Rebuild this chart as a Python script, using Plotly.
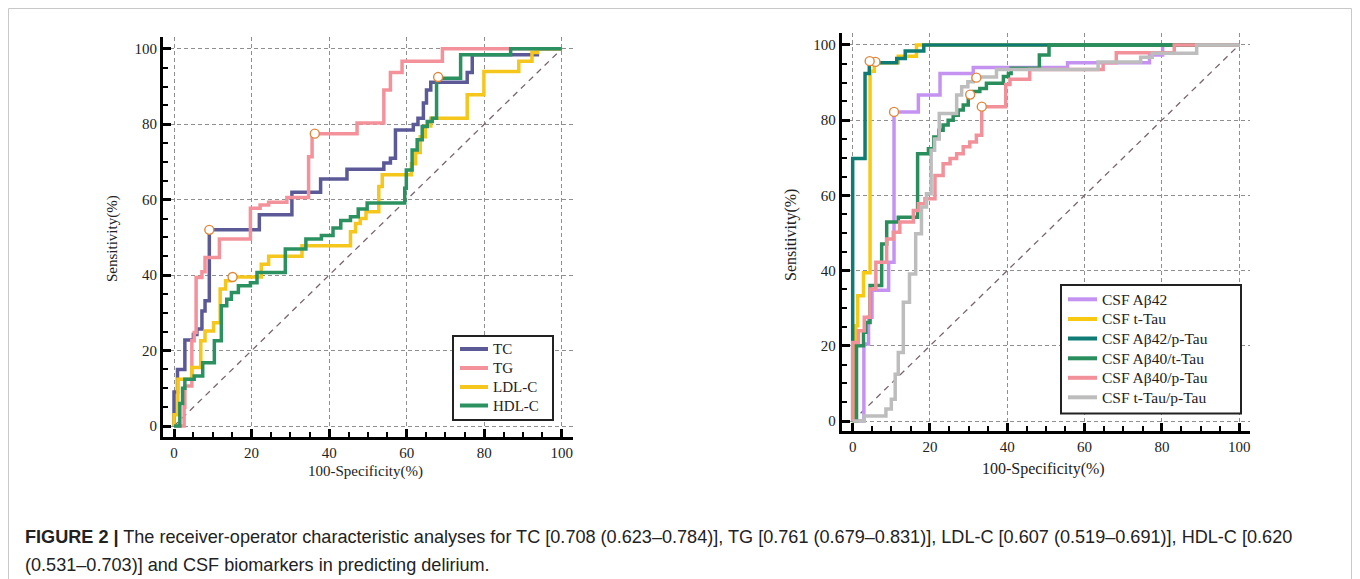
import plotly.graph_objects as go

W, H = 1360, 579

# ---------------- data (left panel: lipids) ----------------
left_names = ["TC", "TG", "LDL-C", "HDL-C"]
left_colors = ["#5b5a97", "#f3929a", "#f5c61c", "#2b9160"]

tc_fpr = [0, 0, 0.9, 2.8, 5, 5.9, 7.2, 8, 9.1, 22, 30.4, 37.8, 44.6, 54.1, 55.8, 57.1, 61.7, 62.9, 64.3, 65.1, 66.2, 75.6, 76.9, 93.7, 100]
tc_tpr = [0, 9, 15, 22.8, 24.3, 25.7, 30.5, 33.2, 52, 56, 62, 65.5, 68.1, 69.7, 71, 78.5, 79.9, 81.6, 85.6, 89.1, 91.1, 93.7, 98.4, 100, 100]

tg_fpr = [0, 2.6, 2.8, 4.6, 5.2, 5.7, 7.2, 8, 11.7, 19.7, 22.2, 24.4, 29.1, 34.7, 35.6, 47.2, 54.1, 55.8, 58.8, 69.2, 100]
tg_tpr = [0, 5, 10.6, 22.6, 24.8, 39.4, 40.9, 44.7, 49.6, 57.7, 58.6, 59.3, 60.6, 71.4, 77.5, 80.3, 89.1, 93.7, 96.7, 100, 100]

ldl_fpr = [0, 0, 1, 4.6, 6.9, 8, 10.2, 11.9, 13.3, 14.6, 22.5, 24.4, 33, 45.5, 46.8, 48, 49.5, 52.8, 53.7, 61.2, 62.3, 63.5, 64.8, 66.2, 75.6, 79.9, 88.9, 92.3, 93.7, 100]
ldl_tpr = [0, 3, 12.4, 15.5, 22.6, 25.2, 27.4, 36.3, 38.5, 39.5, 42.9, 45, 47.8, 51.5, 53.7, 55, 56.8, 63.5, 66.6, 69.5, 72.5, 76.7, 79.5, 81.6, 87.8, 94, 96.7, 99, 100, 100]

hdl_fpr = [0, 0.8, 1.5, 2.2, 2.8, 5.2, 7.4, 10.4, 12.2, 13.6, 14.8, 16.6, 19.7, 21.4, 28.7, 34, 38, 41, 43, 45.5, 47.5, 49.8, 59.5, 59.9, 61.4, 62.7, 64, 65.3, 66.6, 67.7, 73.9, 86.8, 100]
hdl_tpr = [0, 0, 6, 10, 12.4, 13.3, 16.8, 22.6, 31.9, 33.6, 35.4, 37.2, 38, 40.7, 46.9, 49.6, 50.5, 52.5, 54.5, 55.5, 57.5, 59.1, 63, 67.9, 73.2, 75.9, 79.4, 80.7, 81.6, 92.2, 98.4, 100, 100]

# cut-off points (open circles)
left_cut_fpr = [9.1, 36.3, 15.1, 68.1]
left_cut_tpr = [52, 77.5, 39.5, 92.5]

# ---------------- data (right panel: CSF biomarkers) ----------------
right_names = ["CSF A\u03b242", "CSF t-Tau", "CSF A\u03b242/p-Tau", "CSF A\u03b240/t-Tau", "CSF A\u03b240/p-Tau", "CSF t-Tau/p-Tau"]
right_colors = ["#c493f2", "#f7c910", "#0e7c74", "#2a8d5c", "#f2919a", "#bdbdbd"]

ab42_fpr = [0, 2.9, 4.1, 5, 9.3, 10.7, 17, 22.6, 31.2, 55.6, 76.8, 80.2, 100]
ab42_tpr = [0, 20.5, 27.6, 34.8, 42.2, 82.2, 86.7, 92.4, 94, 95.3, 97.3, 100, 100]

ttau_fpr = [0, 0.8, 1.3, 2.8, 4.5, 5.6, 11.8, 16.5, 100]
ttau_tpr = [0, 25.3, 33.3, 39.4, 93, 95.3, 97, 100, 100]

ab42p_fpr = [0, 0, 3.2, 4.3, 11.4, 13.6, 18.4, 100]
ab42p_tpr = [0, 69.8, 92.4, 95.3, 96.4, 98.4, 100, 100]

ab40t_fpr = [0, 1, 2.8, 3.4, 4.5, 7.5, 8.8, 11.8, 16.8, 19.6, 21, 22.3, 23.4, 24.7, 26, 27.3, 28.6, 29.9, 31.2, 32.9, 34.6, 39, 40.3, 41, 48.3, 50.8, 100]
ab40t_tpr = [0, 20, 23.6, 26.2, 36, 47.1, 52.9, 54.2, 71.1, 72.4, 75.5, 77.3, 78.7, 80, 81.3, 82.7, 84, 86.7, 87.6, 88.4, 89.8, 91.6, 92.4, 93.8, 97.3, 100, 100]

ab40p_fpr = [0, 0, 1.5, 3, 4.5, 6, 8.8, 10.5, 12.2, 15.7, 17, 18.7, 21.3, 23.4, 25.2, 26.9, 28.6, 30.3, 32, 33.4, 39.6, 40.7, 45.8, 64.8, 68.2, 83.2, 100]
ab40p_tpr = [0, 20.9, 24, 27.6, 35.1, 42.2, 48.4, 50.2, 52.9, 56, 57.8, 59.1, 65.3, 68.4, 69.8, 71.1, 72.9, 74.2, 76, 83.6, 89.5, 90.9, 93.5, 95.3, 97.9, 100, 100]

tptau_fpr = [0, 3, 8.6, 10, 11, 11.8, 13.1, 14.7, 16.3, 17.8, 19.1, 20.3, 21.2, 22.4, 26.9, 28.2, 29.8, 31.2, 37.2, 63.5, 74.5, 77.5, 89, 100]
tptau_tpr = [0, 1.3, 3.2, 5.8, 12.4, 18.2, 31.6, 39.1, 49.8, 56.9, 60.4, 72, 75, 81.8, 86.7, 88.9, 90.2, 91.5, 93.5, 95.5, 96.7, 97.8, 100, 100]

right_cut_fpr = [10.7, 5.9, 4.4, 30.4, 33.4, 32.0]
right_cut_tpr = [82.2, 95.5, 95.7, 86.8, 83.6, 91.3]

ref_line = [0, 100]
tick_vals = [0, 20, 40, 60, 80, 100]

caption_1 = ("<b>FIGURE 2 |</b> The receiver-operator characteristic analyses for TC [0.708 (0.623\u20130.784)], "
             "TG [0.761 (0.679\u20130.831)], LDL-C [0.607 (0.519\u20130.691)], HDL-C [0.620")
caption_2 = "(0.531\u20130.703)] and CSF biomarkers in predicting delirium."

# ---------------- helpers: page pixel -> paper fraction (page body has an 8px margin) ----------------
OFF = 8


def fx(px):
    return (px - OFF) / W


def fy(py):
    return 1 - (py - OFF) / H


fig = go.Figure()
SERIF = "Liberation Serif, Times New Roman, serif"
SANS = "Liberation Sans, Arial, sans-serif"


def add_panel(xa, ya, names, colors, fprs, tprs, cut_x, cut_y):
    fig.add_trace(go.Scatter(x=ref_line, y=ref_line, mode="lines", xaxis=xa, yaxis=ya,
                             line=dict(color="#7a6470", width=1.3, dash="6px,5px"),
                             showlegend=False, hoverinfo="skip"))
    for n, c, fxs, fys in zip(names, colors, fprs, tprs):
        fig.add_trace(go.Scatter(x=fxs, y=fys, mode="lines", name=n, xaxis=xa, yaxis=ya,
                                 line=dict(color=c, width=3.5, shape="hv"),
                                 showlegend=False))
    fig.add_trace(go.Scatter(x=cut_x, y=cut_y, mode="markers", xaxis=xa, yaxis=ya,
                             marker=dict(symbol="circle", size=9, color="white",
                                         line=dict(color="#e0873a", width=1.4)),
                             showlegend=False, hoverinfo="skip"))


add_panel("x", "y", left_names, left_colors,
          [tc_fpr, tg_fpr, ldl_fpr, hdl_fpr], [tc_tpr, tg_tpr, ldl_tpr, hdl_tpr],
          left_cut_fpr, left_cut_tpr)
add_panel("x2", "y2", right_names, right_colors,
          [ab42_fpr, ttau_fpr, ab42p_fpr, ab40t_fpr, ab40p_fpr, tptau_fpr],
          [ab42_tpr, ttau_tpr, ab42p_tpr, ab40t_tpr, ab40p_tpr, tptau_tpr],
          right_cut_fpr, right_cut_tpr)


def axis_style(rng, dom, anchor):
    return dict(range=rng, domain=dom, anchor=anchor, tickvals=tick_vals,
                showline=True, linewidth=3, linecolor="black",
                ticks="inside", ticklen=8, tickwidth=2.5, tickcolor="black",
                minor=dict(ticks="inside", ticklen=5, tickwidth=1.5, tickcolor="black",
                           dtick=5, tick0=0, showgrid=False),
                showgrid=True, gridcolor="#8f8f8f", gridwidth=1, griddash="4px,3px",
                zeroline=False, tickfont=dict(family=SERIF, size=15, color="#222"),
                fixedrange=True)


fig.update_layout(
    width=W, height=H, autosize=False,
    margin=dict(l=0, r=0, t=0, b=0),
    paper_bgcolor="white", plot_bgcolor="white",
    xaxis=axis_style([-2.84, 102.8], [fx(163), fx(572.7)], "y"),
    yaxis=axis_style([-2.9, 103.2], [fy(437), fy(36.7)], "x"),
    xaxis2=axis_style([-2.84, 102.8], [fx(841.7), fx(1250)], "y2"),
    yaxis2=axis_style([-2.66, 103.1], [fy(431), fy(33.3)], "x2"),
    showlegend=False,
)


def add_box_legend(names, colors, box, rows_y, line_x, text_x, size):
    x0, y0, x1, y1 = box
    fig.add_shape(type="rect", xref="paper", yref="paper", x0=fx(x0), x1=fx(x1), y0=fy(y1), y1=fy(y0),
                  line=dict(color="#222", width=2), fillcolor="white", layer="above")
    for n, c, ry in zip(names, colors, rows_y):
        fig.add_shape(type="line", xref="paper", yref="paper", x0=fx(line_x[0]), x1=fx(line_x[1]),
                      y0=fy(ry), y1=fy(ry), line=dict(color=c, width=4), layer="above")
        fig.add_annotation(text=n, xref="paper", yref="paper", x=fx(text_x), y=fy(ry),
                           xanchor="left", yanchor="middle", showarrow=False,
                           font=dict(family=SERIF, size=size, color="#222"))


add_box_legend(left_names, left_colors, (453, 336, 553, 420), [349, 368, 387, 405.5],
               (460, 488), 491, 15)
add_box_legend(right_names, right_colors, (1061, 285, 1241, 413.5),
               [299.3, 319, 338.5, 358.3, 377.8, 397.3], (1068, 1097), 1099.5, 15.5)

ann = [
    dict(text="Sensitivity(%)", x=fx(113), y=fy(239), textangle=-90, font=dict(family=SERIF, size=15, color="#222")),
    dict(text="100-Specificity(%)", x=fx(365), y=fy(471), font=dict(family=SERIF, size=15, color="#222")),
    dict(text="Sensitivity(%)", x=fx(791), y=fy(235), textangle=-90, font=dict(family=SERIF, size=16, color="#222")),
    dict(text="100-Specificity(%)", x=fx(1043), y=fy(469), font=dict(family=SERIF, size=16, color="#222")),
]
for a in ann:
    fig.add_annotation(xref="paper", yref="paper", showarrow=False, xanchor="center", yanchor="middle", **a)

fig.add_annotation(text=caption_1, xref="paper", yref="paper", x=fx(23), y=fy(537),
                   xanchor="left", yanchor="middle", showarrow=False,
                   font=dict(family=SANS, size=18.1, color="#222"))
fig.add_annotation(text=caption_2, xref="paper", yref="paper", x=fx(23), y=fy(565),
                   xanchor="left", yanchor="middle", showarrow=False,
                   font=dict(family=SANS, size=18.1, color="#222"))

# figure frame
fig.add_shape(type="rect", xref="paper", yref="paper", x0=fx(8.5), x1=fx(1351.5), y0=-0.1, y1=fy(8.5),
              line=dict(color="#c8c8c8", width=1), fillcolor="rgba(0,0,0,0)", layer="below")

fig.write_html("out.html")
